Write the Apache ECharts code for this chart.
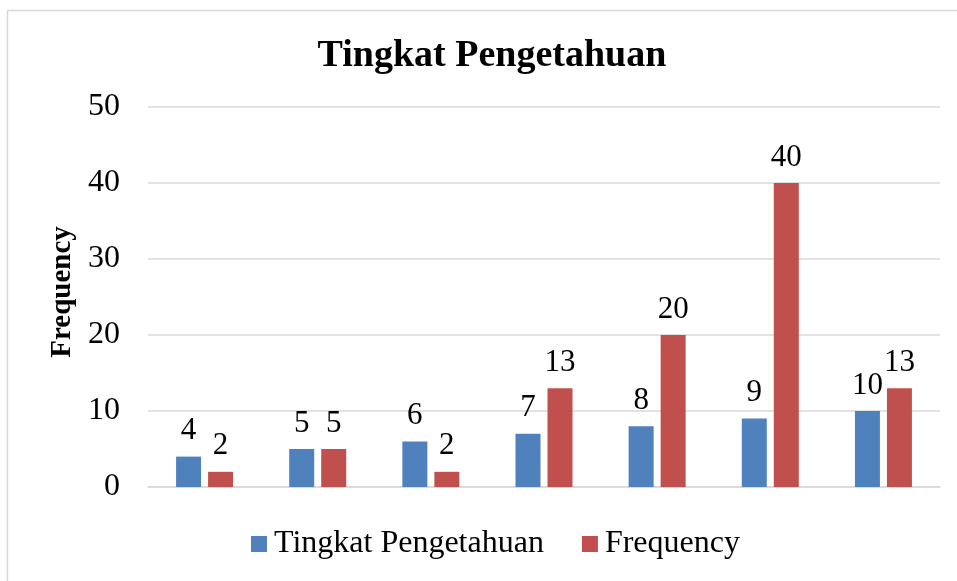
<!DOCTYPE html>
<html>
<head>
<meta charset="utf-8">
<script src="https://cdn.jsdelivr.net/npm/echarts@6/dist/echarts.min.js"></script>
<style>
  html, body { margin: 0; padding: 0; background: #fff; }
  #chart { width: 957px; height: 581px; }
</style>
</head>
<body>
<div id="chart"></div>
<script>
// values
const categories = ['1', '2', '3', '4', '5', '6', '7'];
const tingkatValues = [4, 5, 6, 7, 8, 9, 10];
const frequencyValues = [2, 5, 2, 13, 20, 40, 13];
const yTicks = { min: 0, max: 50, interval: 10 };

const serif = '"Liberation Serif", "Times New Roman", serif';

const chart = echarts.init(document.getElementById('chart'));

const labelStyle = {
  show: true,
  position: 'top',
  distance: 10,
  fontFamily: serif,
  fontSize: 31,
  color: '#000'
};

chart.setOption({
  animation: false,
  backgroundColor: '#fff',
  graphic: [{
    type: 'rect',
    left: 5,
    top: 8,
    shape: { width: 980, height: 600 },
    style: { fill: 'none', stroke: '#d9d9d9', lineWidth: 1.5 },
    silent: true
  }],
  title: {
    text: 'Tingkat Pengetahuan',
    left: 487,
    top: 32,
    textAlign: 'center',
    textStyle: {
      fontFamily: serif,
      fontWeight: 'bold',
      fontSize: 38,
      color: '#000'
    }
  },
  legend: {
    bottom: 16,
    left: 246,
    itemWidth: 16,
    itemHeight: 16,
    itemGap: 38,
    icon: 'rect',
    textStyle: { fontFamily: serif, fontSize: 32, color: '#000', padding: [0, 0, 0, 2] },
    data: ['Tingkat Pengetahuan', 'Frequency']
  },
  grid: { left: 148, right: 17, top: 107, bottom: 94 },
  xAxis: {
    type: 'category',
    data: categories,
    axisLine: { show: true, lineStyle: { color: '#d9d9d9', width: 1.5 } },
    axisTick: { show: false },
    axisLabel: { show: false }
  },
  yAxis: {
    type: 'value',
    min: yTicks.min,
    max: yTicks.max,
    interval: yTicks.interval,
    name: 'Frequency',
    nameLocation: 'middle',
    nameGap: 70,
    nameTextStyle: { fontFamily: serif, fontWeight: 'bold', fontSize: 29, color: '#000', padding: [0, 0, 0, 10] },
    axisLine: { show: false },
    axisTick: { show: false },
    axisLabel: { fontFamily: serif, fontSize: 32, color: '#000', margin: 28 },
    splitLine: { lineStyle: { color: '#d9d9d9', width: 1.5 } }
  },
  series: [
    {
      name: 'Tingkat Pengetahuan',
      type: 'bar',
      data: tingkatValues,
      barWidth: 25,
      barGap: '28%',
      itemStyle: { color: '#4F81BD' },
      label: labelStyle
    },
    {
      name: 'Frequency',
      type: 'bar',
      data: frequencyValues,
      barWidth: 25,
      itemStyle: { color: '#C0504D' },
      label: labelStyle
    }
  ]
});
</script>
</body>
</html>
